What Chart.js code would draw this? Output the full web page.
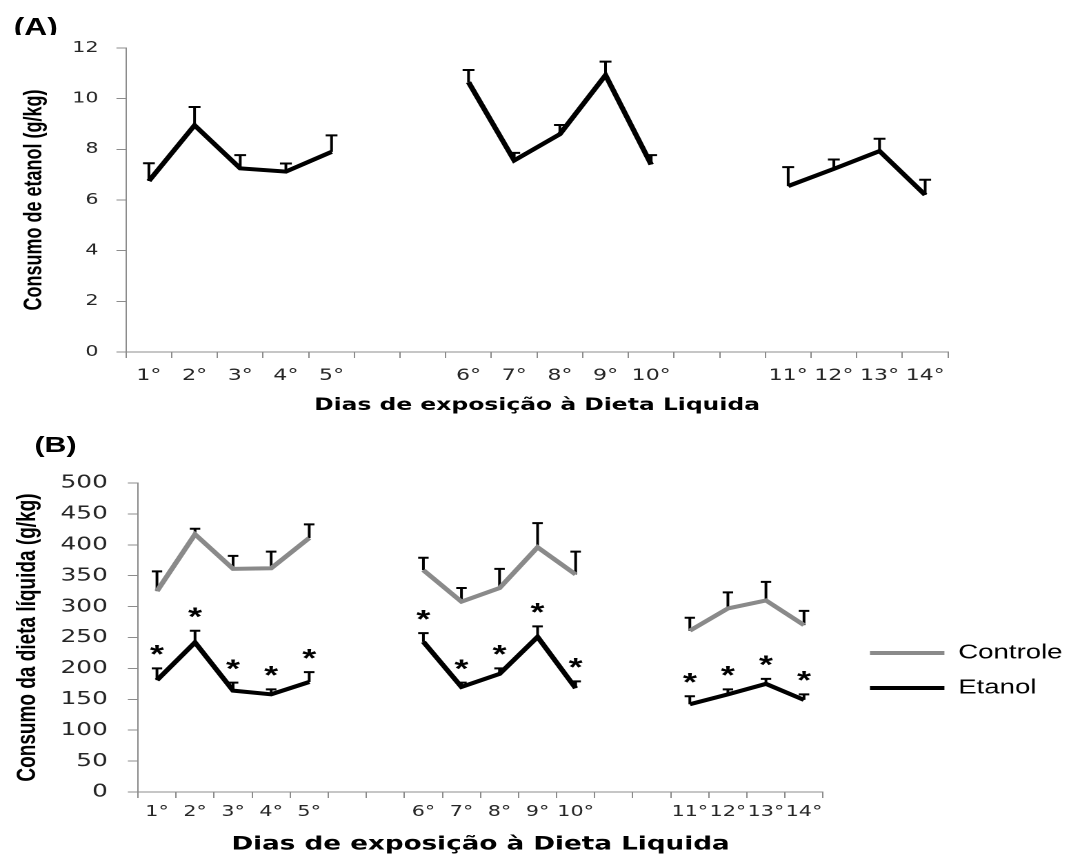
<!DOCTYPE html>
<html>
<head>
<meta charset="utf-8">
<script src="https://cdn.jsdelivr.net/npm/chart.js@4.4.1/dist/chart.umd.min.js"></script>
<style>
  html, body { margin:0; padding:0; background:#fff; overflow:hidden; width:1080px; height:854px; }
  #wrap { position:absolute; left:0; top:0; width:783px; height:854px; transform:scaleX(1.37931); transform-origin:0 0; }
  canvas { position:absolute; left:0; }
  #cA { top:0; }
  #cB { top:410px; }
  .panel { position:absolute; font-family:"Liberation Sans", Arial, sans-serif; font-weight:bold; color:#000; }
  #labA { left:10px; top:0; height:35px; overflow:hidden; }
  #labA span { display:block; margin-top:16px; font-size:23px; line-height:23px; }
  #labB { left:25px; top:434px; font-size:22px; line-height:22px; }
</style>
</head>
<body>
<div id="wrap">
  <canvas id="cA" width="783" height="425"></canvas>
  <canvas id="cB" width="783" height="448"></canvas>
  <div class="panel" id="labA"><span>(A)</span></div>
  <div class="panel" id="labB">(B)</div>
</div>
<script>
// ---------- data ----------
const days = ['1°','2°','3°','4°','5°','','','6°','7°','8°','9°','10°','','','11°','12°','13°','14°'];

// Panel A: ethanol consumption (g/kg)
const etanolA    = [6.75, 8.95, 7.25, 7.12, 7.9, null, null, 10.65, 7.56, 8.6, 10.93, 7.4, null, null, 6.55, 7.23, 7.93, 6.2];
const etanolAErr = [0.70, 0.72, 0.52, 0.32, 0.65, null, null, 0.48, 0.30, 0.36, 0.53, 0.37, null, null, 0.75, 0.37, 0.49, 0.60];

// Panel B: liquid diet consumption (g/kg)
const controleB    = [325, 417, 361, 362, 411, null, null, 359, 308, 330, 396, 352, null, null, 261, 297, 310, 270];
const controleBErr = [32, 9, 21, 27, 22, null, null, 20, 22, 31, 39, 37, null, null, 21, 26, 30, 23];
const etanolB      = [181, 242, 164, 158, 178, null, null, 243, 170, 191, 251, 168, null, null, 142, 158, 175, 149];
const etanolBErr   = [19, 19, 13, 8, 16, null, null, 14, 7, 9, 17, 11, null, null, 13, 8, 8, 9];
const etanolBSig   = [true, true, true, true, true, false, false, true, true, true, true, true, false, false, true, true, true, true];

const yTicksA = { min: 0, max: 12, step: 2 };
const yTicksB = { min: 0, max: 500, step: 50 };

const xTitle = 'Dias de exposição à Dieta Liquida';
const yTitleA = 'Consumo de etanol (g/kg)';
const yTitleB = 'Consumo da dieta líquida (g/kg)';

// ---------- style ----------
Chart.defaults.font.family = '"DejaVu Sans", Verdana, sans-serif';
const AXIS = '#8c8c8c';
const TICK_TXT = '#262626';

// error bars (upper only, with cap) + significance asterisks
const errorBarPlugin = {
  id: 'errorBars',
  beforeDatasetsDraw(chart, args, opts) {
    const ys = chart.scales.y;
    const ctx = chart.ctx;
    chart.data.datasets.forEach((ds, di) => {
      if (!ds.errorBars) return;
      const meta = chart.getDatasetMeta(di);
      ctx.save();
      ctx.strokeStyle = '#000';
      ctx.lineWidth = opts.width || 2;
      meta.data.forEach((pt, i) => {
        const v = ds.data[i], e = ds.errorBars[i];
        if (v == null || e == null) return;
        const x = pt.x;
        const y0 = ys.getPixelForValue(v);
        const y1 = ys.getPixelForValue(v + e);
        ctx.beginPath();
        ctx.moveTo(x, y0); ctx.lineTo(x, y1);
        ctx.moveTo(x - opts.capHalf, y1); ctx.lineTo(x + opts.capHalf, y1);
        ctx.stroke();
      });
      ctx.restore();
    });
  },
  afterDatasetsDraw(chart, args, opts) {
    const ys = chart.scales.y;
    const ctx = chart.ctx;
    chart.data.datasets.forEach((ds, di) => {
      if (!ds.asterisks) return;
      const meta = chart.getDatasetMeta(di);
      ctx.save();
      ctx.fillStyle = '#000';
      const fs = 26;
      ctx.font = 'bold ' + fs + 'px "Liberation Sans", Arial, sans-serif';
      ctx.textAlign = 'center';
      ctx.textBaseline = 'alphabetic';
      meta.data.forEach((pt, i) => {
        if (!ds.asterisks[i] || ds.data[i] == null) return;
        const top = ys.getPixelForValue(ds.data[i] + (ds.errorBars ? ds.errorBars[i] : 0));
        const cy = top - 19;
        ctx.fillText('*', pt.x, cy + 0.53 * fs);
      });
      ctx.restore();
    });
  }
};

// ---------- Panel A ----------
new Chart(document.getElementById('cA'), {
  type: 'line',
  data: {
    labels: days,
    datasets: [{
      label: 'Etanol',
      data: etanolA,
      errorBars: etanolAErr,
      borderColor: '#000',
      backgroundColor: '#000',
      borderWidth: 4,
      pointRadius: 0,
      pointHoverRadius: 0,
      tension: 0,
      spanGaps: false
    }]
  },
  options: {
    responsive: false,
    animation: false,
    devicePixelRatio: 2,
    events: [],
    layout: { padding: { top: 48, right: 95.7, bottom: 0, left: 0 } },
    plugins: {
      legend: { display: false },
      tooltip: { enabled: false },
      errorBars: { capHalf: 4.3, width: 2 }
    },
    scales: {
      x: {
        type: 'category',
        offset: true,
        grid: { offset: true, drawOnChartArea: false, drawTicks: true, tickLength: 6, color: AXIS },
        border: { color: AXIS, width: 1 },
        ticks: { autoSkip: false, maxRotation: 0, minRotation: 0, padding: 8, color: TICK_TXT, font: { size: 16 } },
        title: { display: true, text: xTitle, color: '#000', font: { size: 17, weight: 'bold' }, padding: { top: 0, bottom: 9 } },
        afterFit: s => { s.height = 73; }
      },
      y: {
        min: yTicksA.min, max: yTicksA.max,
        ticks: { stepSize: yTicksA.step, padding: 13, color: TICK_TXT, font: { size: 15 } },
        grid: { drawOnChartArea: false, drawTicks: true, tickLength: 7, color: AXIS },
        border: { color: AXIS, width: 1 },
        title: { display: true, text: yTitleA, color: '#000', font: { family: '"Liberation Sans", Arial, sans-serif', size: 18, weight: 'bold' }, padding: { top: 14, bottom: 0 } },
        afterFit: s => { s.width = 91.4; }
      }
    }
  },
  plugins: [errorBarPlugin]
});

// ---------- Panel B ----------
// legend sample: a 54px line preceded by a 19px blank lead-in
const legendLineDash = [0, 19, 54, 1000];

new Chart(document.getElementById('cB'), {
  type: 'line',
  data: {
    labels: days,
    datasets: [{
      label: 'Controle',
      data: controleB,
      errorBars: controleBErr,
      borderColor: '#8a8a8a',
      backgroundColor: '#8a8a8a',
      borderWidth: 4,
      pointRadius: 0,
      pointHoverRadius: 0,
      tension: 0,
      spanGaps: false
    }, {
      label: 'Etanol',
      data: etanolB,
      errorBars: etanolBErr,
      asterisks: etanolBSig,
      borderColor: '#000',
      backgroundColor: '#000',
      borderWidth: 4,
      pointRadius: 0,
      pointHoverRadius: 0,
      tension: 0,
      spanGaps: false
    }]
  },
  options: {
    responsive: false,
    animation: false,
    devicePixelRatio: 2,
    events: [],
    layout: { padding: { top: 73, right: 2.7, bottom: 0, left: 0 } },
    plugins: {
      legend: {
        display: true,
        position: 'right',
        align: 'center',
        labels: {
          usePointStyle: true,
          pointStyle: 'line',
          pointStyleWidth: 73,
          padding: 15,
          color: '#000',
          font: { family: '"Liberation Sans", Arial, sans-serif', size: 20 },
          generateLabels(chart) {
            const items = Chart.defaults.plugins.legend.labels.generateLabels(chart);
            items.forEach(it => { it.lineDash = legendLineDash; it.lineDashOffset = 0; });
            return items;
          }
        }
      },
      tooltip: { enabled: false },
      errorBars: { capHalf: 3.8, width: 2 }
    },
    scales: {
      x: {
        type: 'category',
        offset: true,
        grid: { offset: true, drawOnChartArea: false, drawTicks: true, tickLength: 6, color: AXIS },
        border: { color: AXIS, width: 1 },
        ticks: { autoSkip: false, maxRotation: 0, minRotation: 0, padding: 5, color: TICK_TXT, font: { size: 15 } },
        title: { display: true, text: xTitle, color: '#000', font: { size: 19, weight: 'bold' }, padding: { top: 0, bottom: 2 } },
        afterFit: s => { s.height = 66; }
      },
      y: {
        min: yTicksB.min, max: yTicksB.max,
        ticks: { stepSize: yTicksB.step, padding: 14.5, color: TICK_TXT, font: { size: 18 } },
        grid: { drawOnChartArea: false, drawTicks: true, tickLength: 7.3, color: AXIS },
        border: { color: AXIS, width: 1 },
        title: { display: true, text: yTitleB, color: '#000', font: { family: '"Liberation Sans", Arial, sans-serif', size: 19, weight: 'bold' }, padding: { top: 9, bottom: 0 } },
        afterFit: s => { s.width = 100; }
      }
    }
  },
  plugins: [errorBarPlugin]
});
</script>
</body>
</html>
